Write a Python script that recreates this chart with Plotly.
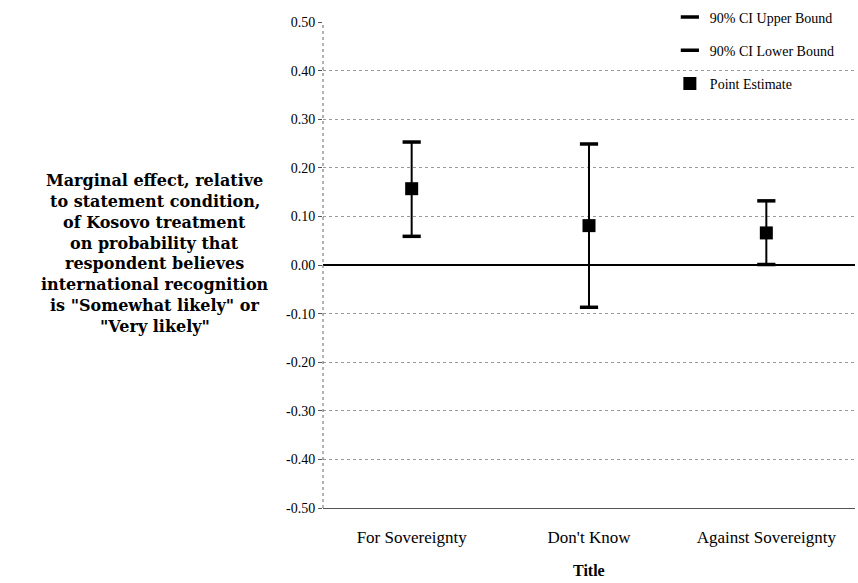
import plotly.graph_objects as go

# Treatment conditions on the category axis
categories = ["For Sovereignty", "Don't Know", "Against Sovereignty"]

# Marginal effects with 90% confidence bounds
upper_bound = [0.253, 0.249, 0.132]
lower_bound = [0.059, -0.087, 0.001]
point_estimate = [0.157, 0.081, 0.066]

# Y-axis ticks (printed with an ASCII hyphen for negatives)
y_tick_vals = [0.5, 0.4, 0.3, 0.2, 0.1, 0.0, -0.1, -0.2, -0.3, -0.4, -0.5]
y_tick_text = ["0.50", "0.40", "0.30", "0.20", "0.10", "0.00",
               "-0.10", "-0.20", "-0.30", "-0.40", "-0.50"]

# Vertical axis caption, one entry per printed line
y_caption_lines = [
    "Marginal effect, relative",
    "to statement condition,",
    "of Kosovo treatment",
    "on probability that",
    "respondent believes",
    "international recognition",
    "is \"Somewhat likely\" or",
    "\"Very likely\"",
]

serif = "Liberation Serif"

err_plus = [u - p for u, p in zip(upper_bound, point_estimate)]
err_minus = [p - l for p, l in zip(point_estimate, lower_bound)]

fig = go.Figure()

fig.add_trace(go.Scatter(
    x=categories, y=upper_bound, mode="markers",
    name="90% CI Upper Bound", legendgroup="u",
    marker=dict(symbol="line-ew", size=13, color="black",
                line=dict(color="black", width=3.5)),
))
fig.add_trace(go.Scatter(
    x=categories, y=lower_bound, mode="markers",
    name="90% CI Lower Bound", legendgroup="l",
    marker=dict(symbol="line-ew", size=13, color="black",
                line=dict(color="black", width=3.5)),
))
fig.add_trace(go.Scatter(
    x=categories, y=point_estimate, mode="markers",
    name="Point Estimate", legendgroup="p",
    marker=dict(symbol="square", size=13, color="black"),
    error_y=dict(type="data", symmetric=False, array=err_plus,
                 arrayminus=err_minus, width=0, thickness=2, color="black"),
))

plot_top, plot_bottom = 21, 75
plot_h = 583 - plot_top - plot_bottom

fig.update_layout(
    width=858, height=583,
    margin=dict(l=323, r=3, t=plot_top, b=plot_bottom),
    paper_bgcolor="white", plot_bgcolor="white",
    font=dict(family=serif, size=14, color="black"),
    showlegend=True,
    legend=dict(
        x=0.652, y=1.04, xanchor="left", yanchor="top",
        bgcolor="rgba(0,0,0,0)", font=dict(family=serif, size=14),
        tracegroupgap=12, itemwidth=30,
    ),
    xaxis=dict(
        type="category", range=[-0.5, 2.5],
        showgrid=False, zeroline=False,
        showline=True, linecolor="#555", linewidth=1,
        ticks="", ticklabelstandoff=14,
        tickfont=dict(family=serif, size=17),
    ),
    yaxis=dict(
        range=[-0.5, 0.5],
        tickvals=y_tick_vals, ticktext=y_tick_text,
        showgrid=True, gridcolor="#9a9a9a", griddash="dot", gridwidth=1,
        zeroline=True, zerolinecolor="black", zerolinewidth=1.5,
        showline=False,
        ticks="outside", ticklen=4, tickcolor="#555",
        tickfont=dict(family=serif, size=14),
    ),
)

# Dotted vertical axis line
fig.add_shape(type="line", xref="paper", yref="paper",
              x0=0, x1=0, y0=0, y1=1,
              line=dict(color="#666", width=1, dash="dot"))

# Caption block to the left of the plot, centred at about y = 253 px
line_step = 20.8
center_px = 253
n = len(y_caption_lines)
for i, line in enumerate(y_caption_lines):
    y_px = center_px + (i - (n - 1) / 2) * line_step
    fig.add_annotation(
        xref="paper", yref="paper", x=-0.316,
        y=(583 - plot_bottom - y_px) / plot_h,
        xanchor="center", yanchor="middle", showarrow=False,
        text=f"<b>{line}</b>",
        font=dict(family="DejaVu Serif", size=16, color="black"),
    )

fig.add_annotation(
    xref="paper", yref="paper", x=0.5, y=-0.129,
    xanchor="center", yanchor="middle", showarrow=False,
    text="<b>Title</b>", font=dict(family=serif, size=16, color="black"),
)

fig.write_html("out.html")
